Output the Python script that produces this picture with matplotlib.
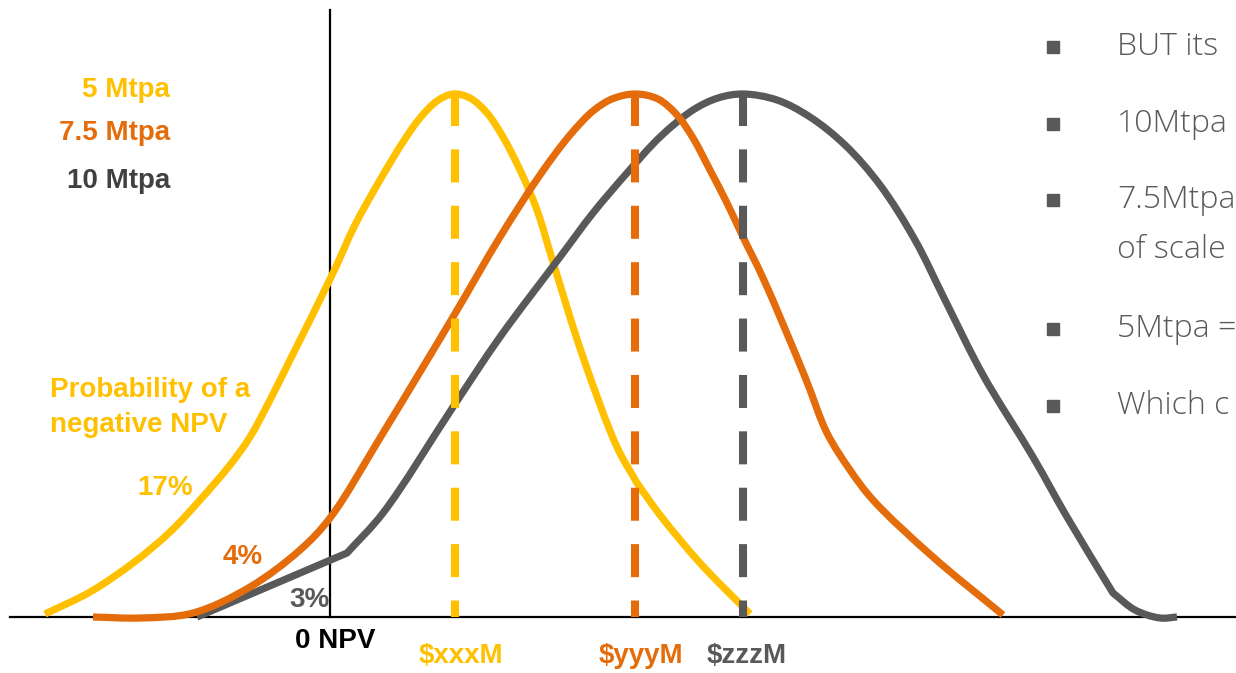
import matplotlib
matplotlib.use("Agg")
import matplotlib.pyplot as plt
from matplotlib.path import Path
from matplotlib.patches import PathPatch

# ---- data (in chart pixel units) ----
series_names = ["5 Mtpa", "7.5 Mtpa", "10 Mtpa"]
yellow_x = [45, 90, 133, 170, 200, 230, 250, 270, 290, 333, 355, 380, 403, 420, 437, 453, 470, 487, 503, 520, 537, 553, 583, 617, 637, 660, 700, 750]
yellow_y = [614, 592, 563, 532, 500, 465, 437, 400, 360, 273, 225, 180, 142, 118, 101, 94, 98, 113, 137, 170, 210, 262, 357, 447, 483, 515, 563, 614]
yellow_corners = [637]
orange_x = [93, 140, 193, 250, 300, 330, 383, 453, 500, 540, 570, 593, 612, 635, 658, 677, 693, 710, 727, 743, 763, 805, 827, 850, 873, 933, 1003]
orange_y = [617, 618, 613, 587, 550, 518, 433, 317, 237, 175, 135, 111, 99, 94, 99, 115, 138, 170, 203, 237, 278, 377, 433, 470, 500, 557, 615]
orange_corners = []
grey_x = [197, 347, 383, 453, 500, 560, 593, 627, 660, 693, 718, 743, 777, 810, 845, 880, 915, 945, 983, 1033, 1067, 1113, 1135, 1160, 1177]
grey_y = [617, 553, 513, 407, 337, 257, 213, 173, 137, 110, 98, 94, 100, 117, 145, 185, 240, 300, 375, 457, 517, 593, 610, 618, 617]
grey_corners = [347, 1113]
peak_x = [455, 635, 743]
peak_labels = ["$xxxM", "$yyyM", "$zzzM"]
prob_labels = ["17%", "4%", "3%"]
bullets = ["BUT its", "10Mtpa", "7.5Mtpa", "5Mtpa =", "Which c"]
bullet_extra = "of scale"

YEL, ORA, GRY = "#FFC000", "#E46C0A", "#595959"


def _dist(a, b):
    return max(((a[0] - b[0]) ** 2 + (a[1] - b[1]) ** 2) ** 0.25, 1e-6)


def smooth_path(xs, ys, corners):
    """Centripetal Catmull-Rom through the read points, as cubic Bezier pieces."""
    pts = list(zip(xs, ys))
    pieces, cur = [], [pts[0]]
    for p in pts[1:]:
        cur.append(p)
        if p[0] in corners:
            pieces.append(cur)
            cur = [p]
    if len(cur) > 1:
        pieces.append(cur)
    verts, codes = [pts[0]], [Path.MOVETO]
    for pc in pieces:
        n = len(pc)
        for i in range(n - 1):
            p1, p2 = pc[i], pc[i + 1]
            p0 = pc[i - 1] if i > 0 else (2 * p1[0] - p2[0], 2 * p1[1] - p2[1])
            p3 = pc[i + 2] if i + 2 < n else (2 * p2[0] - p1[0], 2 * p2[1] - p1[1])
            d0, d1, d2 = _dist(p0, p1), _dist(p1, p2), _dist(p2, p3)
            t1 = [d1 * ((p1[k] - p0[k]) / d0 - (p2[k] - p0[k]) / (d0 + d1)) + (p2[k] - p1[k]) for k in (0, 1)]
            t2 = [d1 * ((p3[k] - p2[k]) / d2 - (p3[k] - p1[k]) / (d1 + d2)) + (p2[k] - p1[k]) for k in (0, 1)]
            c1 = (p1[0] + t1[0] / 3, p1[1] + t1[1] / 3)
            c2 = (p2[0] - t2[0] / 3, p2[1] - t2[1] / 3)
            verts += [c1, c2, p2]
            codes += [Path.CURVE4] * 3
    return Path(verts, codes)


fig = plt.figure(figsize=(12.36, 6.73), dpi=100)
ax = fig.add_axes([0, 0, 1, 1])
ax.set_xlim(0, 1236)
ax.set_ylim(673, 0)
ax.axis("off")

# axes lines
ax.plot([10, 1236], [617, 617], color="black", lw=1.6, zorder=1)
ax.plot([330, 330], [10, 617], color="black", lw=1.6, zorder=1)

# curves
for (xs, ys, cs, c, z) in [(yellow_x, yellow_y, yellow_corners, YEL, 2),
                           (grey_x, grey_y, grey_corners, GRY, 3),
                           (orange_x, orange_y, orange_corners, ORA, 4)]:
    patch = PathPatch(smooth_path(xs, ys, cs), fill=False, edgecolor=c,
                      lw=5.2, capstyle="butt", joinstyle="round", zorder=z)
    ax.add_patch(patch)

# dashed peak lines
for px, c in zip(peak_x, [YEL, ORA, GRY]):
    ax.plot([px, px], [93, 617], color=c, lw=5.8, dashes=(4.1, 2.9),
            dash_capstyle="butt", zorder=5)

font = "Liberation Sans"
fs = 20
for name, c, y in zip(series_names, [YEL, ORA, "#404040"], [90, 133, 181]):
    ax.text(170, y, name, color=c, fontsize=fs, fontweight="bold", family=font,
            ha="right", va="center")

ax.text(50, 390, "Probability of a", color=YEL, fontsize=fs, fontweight="bold",
        family=font, ha="left", va="center")
ax.text(50, 425, "negative NPV", color=YEL, fontsize=fs, fontweight="bold",
        family=font, ha="left", va="center")

for lab, c, (x, y) in zip(prob_labels, [YEL, ORA, GRY], [(193, 488), (263, 557), (330, 600)]):
    ax.text(x, y, lab, color=c, fontsize=fs, fontweight="bold", family=font,
            ha="right", va="center")

ax.text(335, 641, "0 NPV", color="black", fontsize=fs, fontweight="bold",
        family=font, ha="center", va="center")
for lab, c, x in zip(peak_labels, [YEL, ORA, GRY], [461, 641, 747]):
    ax.text(x, 656, lab, color=c, fontsize=fs, fontweight="bold", family=font,
            ha="center", va="center")

# right-hand bullets (cropped by figure edge)
by = [47, 124, 200, 329, 406]
for t, y in zip(bullets, by):
    ax.plot([1053], [y], marker="s", ms=8, color=GRY, zorder=6)
    ax.text(1117, y, t, color=GRY, fontsize=23, family="Open Sans",
            fontweight="light", ha="left", va="center")
ax.text(1117, 250, bullet_extra, color=GRY, fontsize=23, family="Open Sans",
        fontweight="light", ha="left", va="center")

fig.savefig("out.png", dpi=100)
